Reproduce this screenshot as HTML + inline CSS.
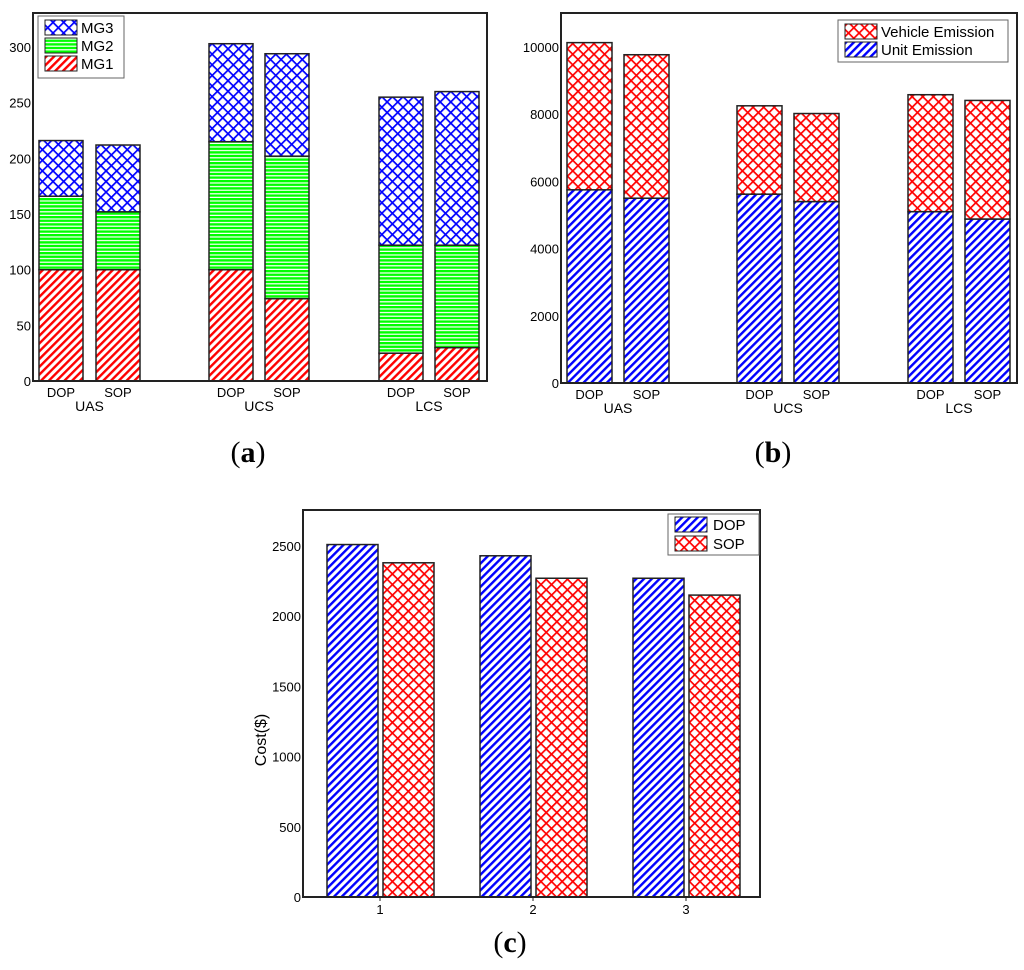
<!DOCTYPE html>
<html><head><meta charset="utf-8">
<style>
body{margin:0;background:#fff;width:1024px;height:970px;overflow:hidden}
svg{position:absolute;left:0;top:0}
text{font-family:"Liberation Sans",Arial,sans-serif;fill:#000}
.cap{font-family:"Liberation Serif",serif;font-size:30px}
</style></head>
<body>
<svg id="fig" width="1024" height="970">
<defs>
<pattern id="redDiag" width="5.5" height="5.5" patternUnits="userSpaceOnUse" patternTransform="rotate(45)">
<rect width="5.5" height="5.5" fill="#fff"/><rect width="2.4" height="5.5" fill="#f00"/></pattern>
<pattern id="blueDiag" width="5.5" height="5.5" patternUnits="userSpaceOnUse" patternTransform="rotate(45)">
<rect width="5.5" height="5.5" fill="#fff"/><rect width="2.4" height="5.5" fill="#00f"/></pattern>
<pattern id="greenH" width="6" height="3.6" patternUnits="userSpaceOnUse">
<rect width="6" height="3.6" fill="#0f0"/><rect y="2.4" width="6" height="1.2" fill="#fff"/></pattern>
<pattern id="blueX" width="7.5" height="7.5" patternUnits="userSpaceOnUse" patternTransform="rotate(45)">
<rect width="7.5" height="7.5" fill="#00f"/><rect x="1.7" y="1.7" width="5.8" height="5.8" fill="#fff"/></pattern>
<pattern id="redX" width="7.5" height="7.5" patternUnits="userSpaceOnUse" patternTransform="rotate(45)">
<rect width="7.5" height="7.5" fill="#f00"/><rect x="1.7" y="1.7" width="5.8" height="5.8" fill="#fff"/></pattern>
</defs>
<g id="ga"></g>
<g id="gb"></g>
<g id="gc"></g>
<text class="cap" x="248" y="462" text-anchor="middle">(<tspan font-weight="bold">a</tspan>)</text>
<text class="cap" x="773" y="462" text-anchor="middle">(<tspan font-weight="bold">b</tspan>)</text>
<text class="cap" x="510" y="952" text-anchor="middle">(<tspan font-weight="bold">c</tspan>)</text>
</svg>
<script>
const groupsAB = ["UAS","UCS","LCS"];
const methods = ["DOP","SOP"];
const aMG1 = [100,100,100,74,25,30];
const aMG2 = [66,52,115,128,97,92];
const aMG3 = [50,60,88,92,133,138];
const aTicks = [0,50,100,150,200,250,300];
const bUnit = [5750,5500,5620,5400,5100,4880];
const bVehicle = [4380,4270,2630,2620,3480,3530];
const bTicks = [0,2000,4000,6000,8000,10000];
const cCats = ["1","2","3"];
const cDOP = [2510,2430,2270];
const cSOP = [2380,2270,2150];
const cTicks = [0,500,1000,1500,2000,2500];

const NS="http://www.w3.org/2000/svg";
function mk(parent,tag,attrs,txt){const e=document.createElementNS(NS,tag);for(const k in attrs)e.setAttribute(k,attrs[k]);if(txt!==undefined)e.textContent=txt;parent.appendChild(e);return e;}

function stacked(g,cfg,series,fills,ticks,legend){
  const {x0,x1,y0,y1,vmax,barX,barW}=cfg;
  const ys=v=>y0-(v/vmax)*(y0-y1);
  for(let i=0;i<6;i++){
    let base=0;
    series.forEach((s,k)=>{
      const t=base+s[i];
      const r=mk(g,'rect',{x:barX[i],y:ys(t),width:barW,height:ys(base)-ys(t),fill:fills[k],stroke:'#222','stroke-width':1.5});
      
      
      base=t;
    });
  }
  const ax=mk(g,'rect',{x:x0,y:y1,width:x1-x0,height:y0-y1,fill:'none',stroke:'#222','stroke-width':2});
  
  ticks.forEach(t=>{const e=mk(g,'text',{x:x0-2,y:ys(t)+5,'text-anchor':'end','font-size':13},String(t));
    });
  for(let i=0;i<6;i++){const e=mk(g,'text',{x:barX[i]+barW/2,y:y0+16,'text-anchor':'middle','font-size':13},methods[i%2]);
    }
  groupsAB.forEach((gr,j)=>{const cx=(barX[2*j]+barX[2*j+1]+barW)/2;
    const e=mk(g,'text',{x:cx,y:y0+30,'text-anchor':'middle','font-size':14},gr);
    });
  const lg=mk(g,'g',{});
  mk(lg,'rect',{x:legend.x,y:legend.y,width:legend.w,height:legend.h,fill:'#fff',stroke:'#666','stroke-width':1});
  legend.items.forEach((it,k)=>{const yy=legend.y+4+k*18;
    mk(lg,'rect',{x:legend.x+7,y:yy,width:32,height:15,fill:it[1],stroke:'#222','stroke-width':1});
    const t=mk(lg,'text',{x:legend.x+43,y:yy+13,'font-size':15},it[0]);
    });
}

stacked(document.getElementById('ga'),
 {x0:33,x1:487,y0:381,y1:13,vmax:330.6,barX:[39,96,209,265,379,435],barW:44,names:['mg1','mg2','mg3']},
 [aMG1,aMG2,aMG3],['url(#redDiag)','url(#greenH)','url(#blueX)'],aTicks,
 {x:38,y:16,w:86,h:62,items:[['MG3','url(#blueX)'],['MG2','url(#greenH)'],['MG1','url(#redDiag)']]});

stacked(document.getElementById('gb'),
 {x0:561,x1:1017,y0:383,y1:13,vmax:11012,barX:[567,624,737,794,908,965],barW:45,names:['unit','vehicle']},
 [bUnit,bVehicle],['url(#blueDiag)','url(#redX)'],bTicks,
 {x:838,y:20,w:170,h:42,items:[['Vehicle Emission','url(#redX)'],['Unit Emission','url(#blueDiag)']]});

(function(){
  const g=document.getElementById('gc');
  const x0=303,x1=760,y0=897,y1=510,vmax=2756;
  const ys=v=>y0-(v/vmax)*(y0-y1);
  const cx=i=>380+i*153, bw=51;
  cCats.forEach((c,i)=>{
    const r1=mk(g,'rect',{x:cx(i)-bw-2,y:ys(cDOP[i]),width:bw,height:y0-ys(cDOP[i]),fill:'url(#blueDiag)',stroke:'#222','stroke-width':1.5});
    
    const r2=mk(g,'rect',{x:cx(i)+3,y:ys(cSOP[i]),width:bw,height:y0-ys(cSOP[i]),fill:'url(#redX)',stroke:'#222','stroke-width':1.5});
    
    const t=mk(g,'text',{x:cx(i),y:y0+17,'text-anchor':'middle','font-size':13},c);
    
    const tk=mk(g,'line',{x1:cx(i),x2:cx(i),y1:y0,y2:y0+4,stroke:'#222'});
    
  });
  const ax=mk(g,'rect',{x:x0,y:y1,width:x1-x0,height:y0-y1,fill:'none',stroke:'#222','stroke-width':2});
  
  cTicks.forEach(t=>{const e=mk(g,'text',{x:x0-2,y:ys(t)+5,'text-anchor':'end','font-size':13},String(t));
    });
  const yl=mk(g,'text',{x:0,y:0,'text-anchor':'middle','font-size':16,transform:'translate(266,740) rotate(-90)'},'Cost($)');
  
  const lg=mk(g,'g',{});
  mk(lg,'rect',{x:668,y:514,width:91,height:41,fill:'#fff',stroke:'#666'});
  [['DOP','url(#blueDiag)'],['SOP','url(#redX)']].forEach((it,k)=>{const yy=517+k*19;
    mk(lg,'rect',{x:675,y:yy,width:32,height:15,fill:it[1],stroke:'#222'});
    const t=mk(lg,'text',{x:713,y:yy+13,'font-size':15},it[0]);
    });
})();
</script>
</body></html>
